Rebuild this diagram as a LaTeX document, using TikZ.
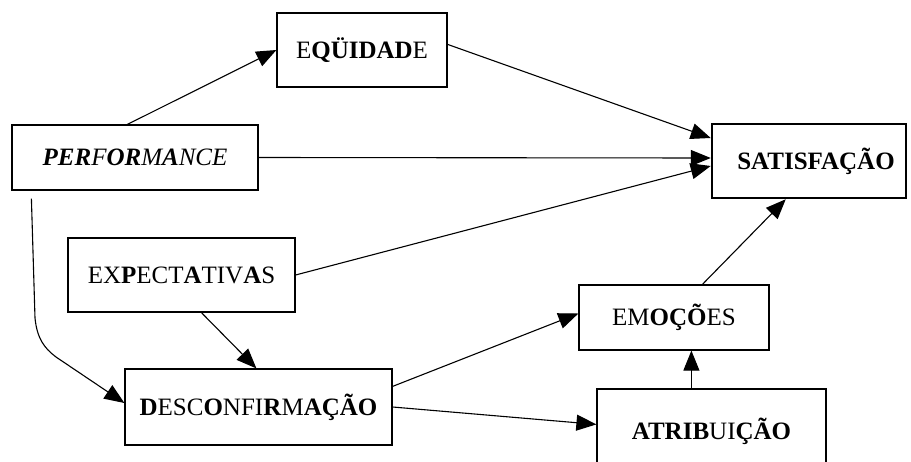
\documentclass[tikz,border=0pt]{standalone}
\usepackage{fontspec}
\setmainfont{Liberation Serif}
\usetikzlibrary{arrows.meta}
\begin{document}
\begin{tikzpicture}[x=1pt,y=-1pt,
  box/.style={draw, line width=1.2pt, inner sep=0pt, text height=16pt, text depth=0pt,
    font=\fontsize{25}{28}\selectfont},
  conn/.style={line width=1.1pt, -{Triangle[length=20pt,width=16pt]}}]
\useasboundingbox (0,0) rectangle (911,461);
\clip (0,0) rectangle (911,461);
\fill[white] (0,0) rectangle (911,461);
\node[box, minimum width=170pt, minimum height=74pt] (equi) at (362,50) {E\textbf{QÜIDAD}E};
\node[box, minimum width=246pt, minimum height=65pt] (perf) at (135,157.5) {\itshape\textbf{PER}F\textbf{OR}M\textbf{A}NCE\hspace{18pt}};
\node[box, line width=2.5pt, minimum width=194pt, minimum height=74pt] (sat) at (809,161) {\hspace{14pt}\textbf{SATISFAÇÃO}};
\node[box, minimum width=227pt, minimum height=74pt] (exp) at (181.5,275) {EX\textbf{P}ECT\textbf{A}TIV\textbf{A}S};
\node[box, minimum width=267pt, minimum height=76pt] (desc) at (258.5,407) {\textbf{D}ESC\textbf{O}NFI\textbf{R}M\textbf{AÇÃO}};
\node[box, minimum width=190pt, minimum height=65pt] (emo) at (674,317.5) {EM\textbf{OÇÕ}ES};
\node[box, minimum width=229pt, minimum height=84pt] (atr) at (711.5,431) {\textbf{ATRIB}UI\textbf{ÇÃO}\hspace{8pt}};
\draw[conn] ([xshift=116pt]perf.north west) -- (equi.west);
\draw[conn] ([yshift=-32pt]equi.north east) -- ([yshift=23pt]sat.west);
\draw[conn] (perf.east) -- ([yshift=3pt]sat.west);
\draw[conn] (exp.east) -- ([yshift=-5pt]sat.west);
\draw[conn] ([xshift=134pt]exp.south west) -- ([xshift=132pt]desc.north west);
\draw[conn] ([xshift=20pt,yshift=-8pt]perf.south west) -- (35,318) .. controls (37,338) and (44,348) .. (56,357) -- ([yshift=4pt]desc.west);
\draw[conn] ([yshift=-18pt]desc.north east) -- ([yshift=4pt]emo.west);
\draw[conn] (desc.east) -- ([yshift=-36pt]atr.north west);
\draw[conn] ([xshift=95pt]atr.north west) -- ([xshift=113pt]emo.south west);
\draw[conn] ([xshift=124pt]emo.north west) -- ([xshift=75pt]sat.south west);
\end{tikzpicture}
\end{document}
